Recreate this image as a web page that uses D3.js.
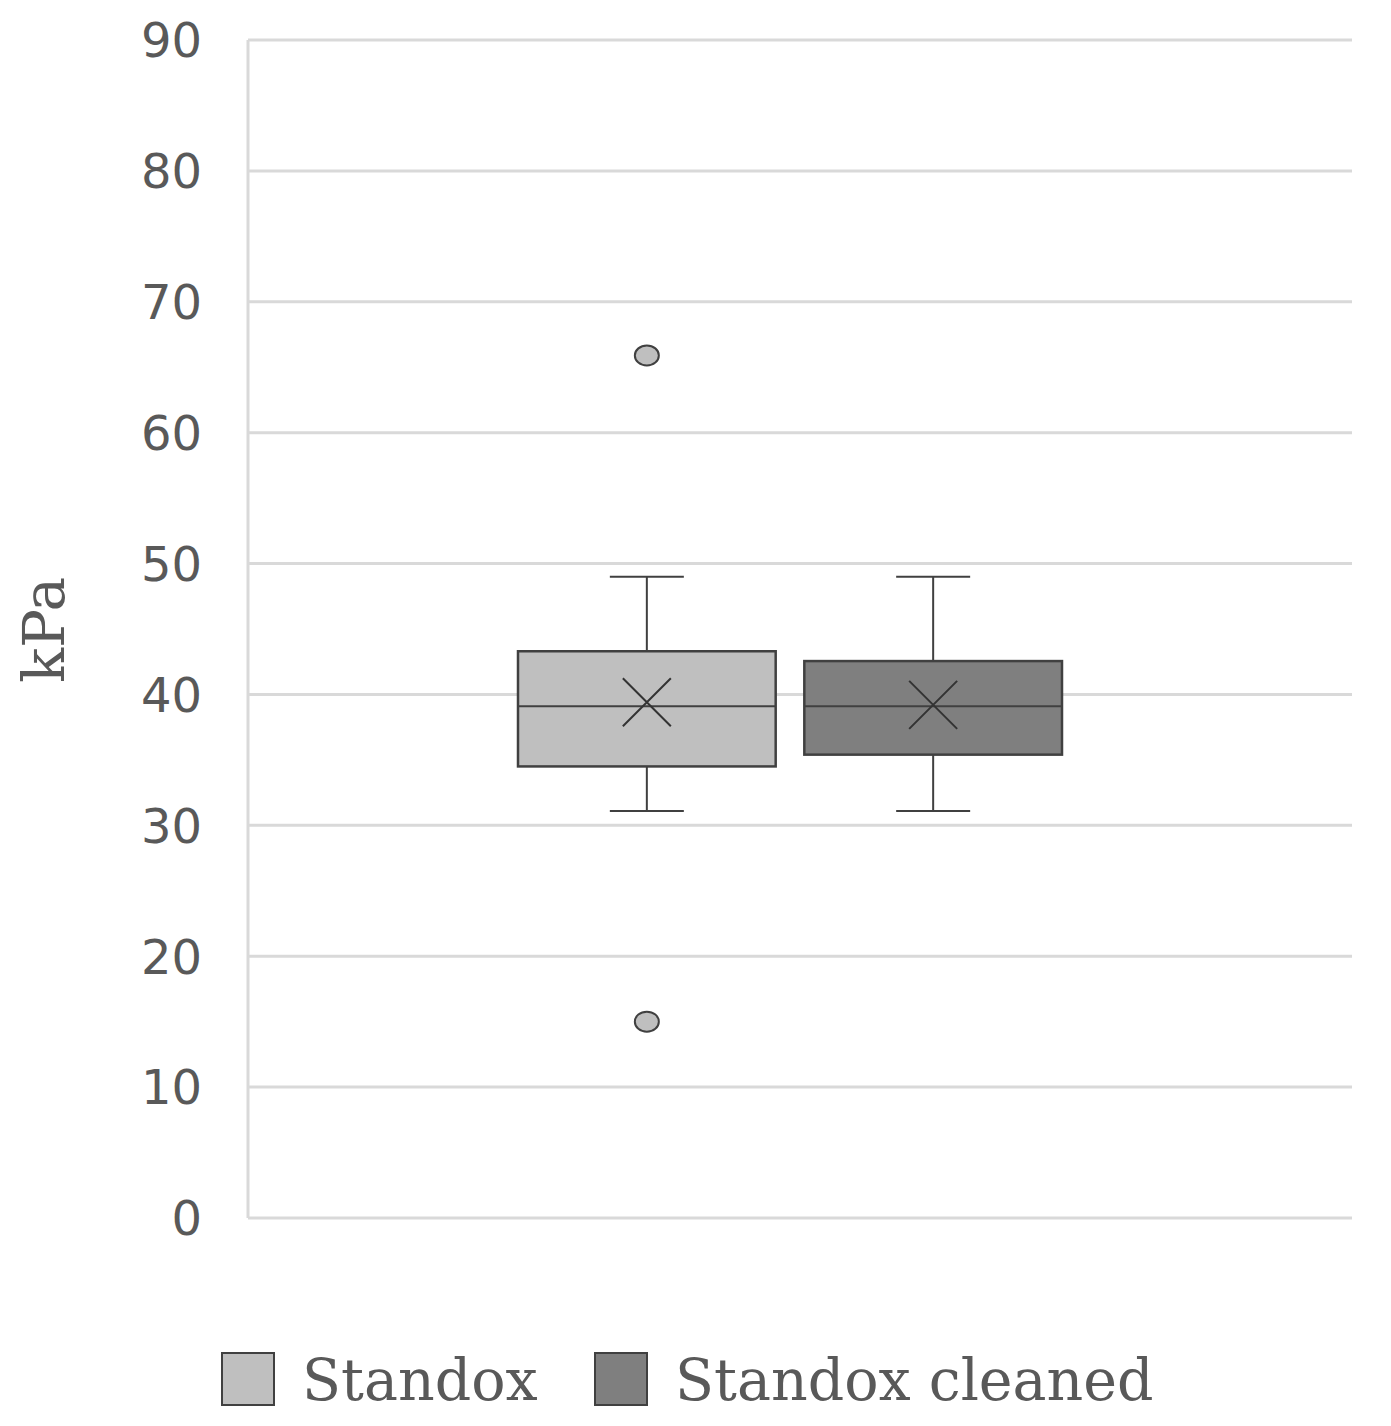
<!DOCTYPE html><html><head><meta charset="utf-8">
<script src="https://cdn.jsdelivr.net/npm/d3@7"></script>
<style>body{margin:0;background:#fff}</style></head><body>
<script>
const series=["Standox","Standox cleaned"];
const colors=["#bfbfbf","#7f7f7f"];
const q1=[34.5,35.4], q3=[43.3,42.55], med=[39.1,39.1], mean=[39.4,39.2];
const wlo=[31.1,31.1], whi=[49,49];
const outliers=[[65.9,15.0],[]];
const yTicks=[0,10,20,30,40,50,60,70,80,90];
const W=1391,H=1426;
const svg=d3.select("body").append("svg").attr("width",W).attr("height",H);
const y=d3.scaleLinear().domain([0,90]).range([1218,40]);
const x=d3.scaleBand().domain(series).range([518,1062]).paddingInner(0.1);
svg.append("line").attr("x1",248).attr("x2",248).attr("y1",40).attr("y2",1218).attr("stroke","#d9d9d9").attr("stroke-width",3);
svg.selectAll(".g").data(yTicks).join("line").attr("x1",248).attr("x2",1352).attr("y1",d=>y(d)).attr("y2",d=>y(d)).attr("stroke","#d9d9d9").attr("stroke-width",3);
svg.selectAll(".t").data(yTicks).join("text").attr("x",202).attr("y",d=>y(d)).attr("dy","0.36em").attr("text-anchor","end")
 .attr("font-family","DejaVu Sans").attr("font-size",48).attr("fill","#595959").text(d=>d);
svg.append("text").attr("transform","translate(64,630) rotate(-90)").attr("text-anchor","middle").attr("font-family","DejaVu Serif").attr("font-size",58).attr("fill","#595959").text("kPa");
series.forEach((s,i)=>{
 const x0=x(s),bw=x.bandwidth(),cx=x0+bw/2,g=svg.append("g");
 const st="#404040";
 [[wlo[i],q1[i]],[q3[i],whi[i]]].forEach(([a,b])=>g.append("line").attr("x1",cx).attr("x2",cx).attr("y1",y(a)).attr("y2",y(b)).attr("stroke",st).attr("stroke-width",2));
 [wlo[i],whi[i]].forEach(v=>g.append("line").attr("x1",cx-37).attr("x2",cx+37).attr("y1",y(v)).attr("y2",y(v)).attr("stroke",st).attr("stroke-width",2));
 g.append("rect").attr("x",x0).attr("width",bw).attr("y",y(q3[i])).attr("height",y(q1[i])-y(q3[i])).attr("fill",colors[i]).attr("stroke",st).attr("stroke-width",2.5);
 g.append("line").attr("x1",x0).attr("x2",x0+bw).attr("y1",y(med[i])).attr("y2",y(med[i])).attr("stroke",st).attr("stroke-width",2);
 const m=y(mean[i]),r=24;
 g.append("path").attr("d",`M${cx-r},${m-r}L${cx+r},${m+r}M${cx-r},${m+r}L${cx+r},${m-r}`).attr("stroke","#333").attr("stroke-width",2);
 outliers[i].forEach(v=>g.append("ellipse").attr("cx",cx).attr("cy",y(v)).attr("rx",12).attr("ry",10).attr("fill",colors[i]).attr("stroke",st).attr("stroke-width",2));
});
const lx=[222,595];
series.forEach((s,i)=>{
 svg.append("rect").attr("x",lx[i]).attr("y",1353).attr("width",52).attr("height",52).attr("fill",colors[i]).attr("stroke","#404040").attr("stroke-width",2);
 svg.append("text").attr("x",lx[i]+80).attr("y",1400).attr("font-family","DejaVu Serif").attr("font-size",57).attr("fill","#595959").text(s);
});
</script></body></html>
